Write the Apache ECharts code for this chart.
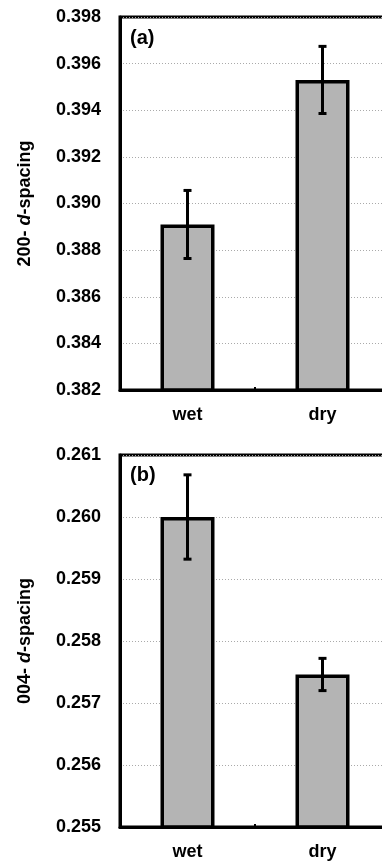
<!DOCTYPE html>
<html>
<head>
<meta charset="utf-8">
<script src="https://cdn.jsdelivr.net/npm/echarts@6/dist/echarts.min.js"></script>
<style>
    html, body { margin: 0; padding: 0; background: #fff; }
    #main { width: 382px; height: 863px; }
</style>
</head>
<body>
<div id="main"></div>
<script>
var categories = ["wet", "dry"];

// panel (a) 200 d-spacing
var spacing200 = [0.3891, 0.3953];
var err200 = [0.00146, 0.00144];
var ticks200 = { min: 0.382, max: 0.398, step: 0.002 };

// panel (b) 004 d-spacing
var spacing004 = [0.26000, 0.25746];
var err004 = [0.00068, 0.00026];
var ticks004 = { min: 0.255, max: 0.261, step: 0.001 };

var font = "'Liberation Sans', Arial, sans-serif";

function errorSeries(idx, vals, errs) {
    var data = [];
    for (var i = 0; i < vals.length; i++) {
        data.push([i, vals[i] - errs[i], vals[i] + errs[i]]);
    }
    return {
        type: "custom",
        xAxisIndex: idx,
        yAxisIndex: idx,
        z: 10,
        data: data,
        renderItem: function (params, api) {
            var x = api.value(0);
            var lo = api.coord([x, api.value(1)]);
            var hi = api.coord([x, api.value(2)]);
            var cap = 4;
            var st = { stroke: "#000", lineWidth: 3 };
            return {
                type: "group",
                children: [
                    { type: "line", shape: { x1: hi[0], y1: hi[1], x2: lo[0], y2: lo[1] }, style: st },
                    { type: "line", shape: { x1: hi[0] - cap, y1: hi[1], x2: hi[0] + cap, y2: hi[1] }, style: st },
                    { type: "line", shape: { x1: lo[0] - cap, y1: lo[1], x2: lo[0] + cap, y2: lo[1] }, style: st }
                ]
            };
        }
    };
}

function xAxisOf(idx) {
    return {
        type: "category",
        gridIndex: idx,
        data: categories,
        axisLine: { show: true, lineStyle: { color: "#000", width: 3 } },
        axisTick: { show: true, inside: true, length: 3, lineStyle: { color: "#000", width: 2 } },
        axisLabel: { color: "#000", fontSize: 18, fontWeight: "bold", fontFamily: font, margin: 16 }
    };
}

function yAxisOf(idx, t, label) {
    return {
        type: "value",
        gridIndex: idx,
        min: t.min,
        max: t.max,
        interval: t.step,
        name: label,
        nameLocation: "middle",
        nameGap: 86,
        nameTextStyle: {
            rich: {
                a: { fontSize: 18, fontWeight: "bold", fontFamily: font, color: "#000" },
                i: { fontSize: 18, fontWeight: "bold", fontStyle: "italic", fontFamily: font, color: "#000" }
            }
        },
        axisLine: { show: true, lineStyle: { color: "#000", width: 3 } },
        axisTick: { show: false },
        splitLine: { show: true, lineStyle: { color: "#aaa", width: 1, type: [1, 2] } },
        axisLabel: {
            color: "#000", fontSize: 18, fontWeight: "bold", fontFamily: font, margin: 19,
            formatter: function (v) { return v.toFixed(3); }
        }
    };
}

function barSeries(idx, vals) {
    return {
        type: "bar",
        xAxisIndex: idx,
        yAxisIndex: idx,
        barWidth: "40%",
        data: vals,
        itemStyle: { color: "#b4b4b4", borderColor: "#000", borderWidth: 3.5 }
    };
}

var chart = echarts.init(document.getElementById("main"), null, { renderer: "canvas" });
chart.setOption({
    animation: false,
    backgroundColor: "#fff",
    title: [
        { text: "(a)", left: 125, top: 23, textStyle: { fontSize: 20, fontWeight: "bold", fontFamily: font, color: "#000" } },
        { text: "(b)", left: 125, top: 460, textStyle: { fontSize: 20, fontWeight: "bold", fontFamily: font, color: "#000" } }
    ],
    grid: [
        { left: 120, width: 270, top: 17, height: 373, outerBoundsMode: "none", containLabel: false, show: true, borderColor: "#000", borderWidth: 3 },
        { left: 120, width: 270, top: 455, height: 372, outerBoundsMode: "none", containLabel: false, show: true, borderColor: "#000", borderWidth: 3 }
    ],
    xAxis: [xAxisOf(0), xAxisOf(1)],
    yAxis: [
        yAxisOf(0, ticks200, "{a|200- }{i|d}{a|-spacing}"),
        yAxisOf(1, ticks004, "{a|004- }{i|d}{a|-spacing}")
    ],
    series: [
        barSeries(0, spacing200),
        errorSeries(0, spacing200, err200),
        barSeries(1, spacing004),
        errorSeries(1, spacing004, err004)
    ]
});
</script>
</body>
</html>
